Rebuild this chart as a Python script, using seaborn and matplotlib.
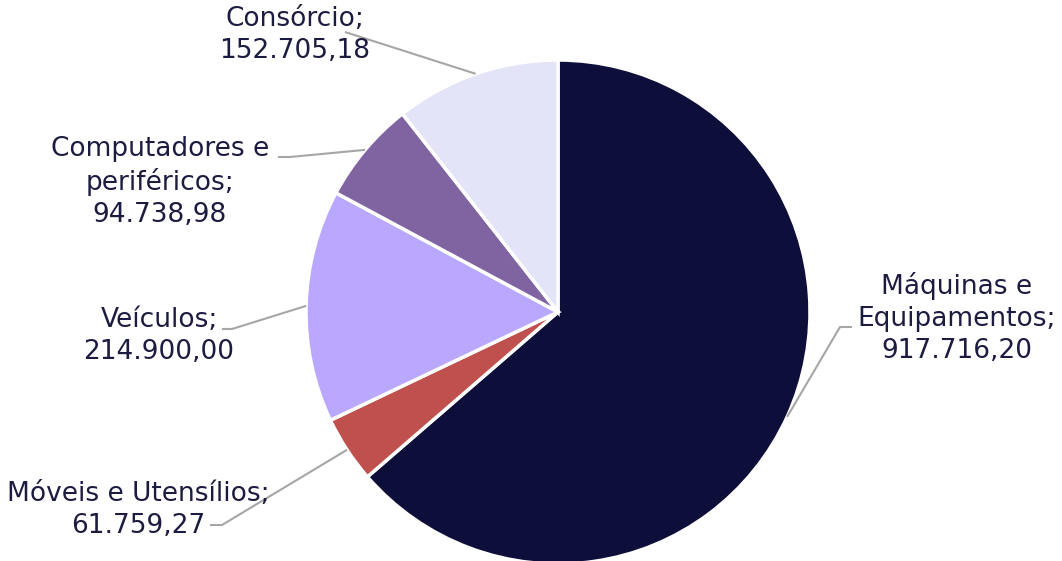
import numpy as np
import matplotlib
matplotlib.use("Agg")
import matplotlib.pyplot as plt
import seaborn as sns

categories = ["Máquinas e\nEquipamentos", "Móveis e Utensílios", "Veículos",
              "Computadores e\nperiféricos", "Consórcio"]
values = [917716.20, 61759.27, 214900.00, 94738.98, 152705.18]
value_labels = ["917.716,20", "61.759,27", "214.900,00", "94.738,98", "152.705,18"]
colors = ["#0E0E3A", "#C0504D", "#B9A8FE", "#8064A2", "#E4E4F8"]

sns.set_style("white")
plt.rcParams["font.family"] = ["DejaVu Sans"]

W, H = 1062, 561
fig = plt.figure(figsize=(W / 100, H / 100), dpi=100)
ax = fig.add_axes([0, 0, 1, 1])

cx, cy, R = 558, H - 312, 252
wedges, _ = ax.pie(values, colors=colors, startangle=90, counterclock=False,
                   center=(cx, cy), radius=R, frame=True,
                   wedgeprops=dict(edgecolor="white", linewidth=2.5))
ax.set_xlim(0, W)
ax.set_ylim(0, H)
ax.set_aspect("equal")
ax.axis("off")

# label layout: (text center x, block center y from top, elbow start, elbow end)
layout = [
    (957, 318, (852, 327), (840, 327)),
    (138, 510, (210, 525), (222, 525)),
    (159, 336, (222, 329), (232, 329)),
    (160, 182, (278, 157), (290, 157)),
    (295, 35, (345, 32), (345, 32)),
]
txtcol = "#1C1B40"
for w, cat, vl, (tx, ty, e1, e2) in zip(wedges, categories, value_labels, layout):
    ang = np.deg2rad((w.theta1 + w.theta2) / 2)
    ax_, ay_ = cx + R * np.cos(ang), cy + R * np.sin(ang)
    ax.plot([e1[0], e2[0], ax_], [H - e1[1], H - e2[1], ay_],
            color="#A6A6A6", lw=1.5, solid_capstyle="butt", zorder=1)
    ax.text(tx, H - ty, f"{cat};\n{vl}", ha="center", va="center",
            fontsize=19, color=txtcol, linespacing=1.3,
            multialignment="center")

fig.savefig("out.png", dpi=100)
